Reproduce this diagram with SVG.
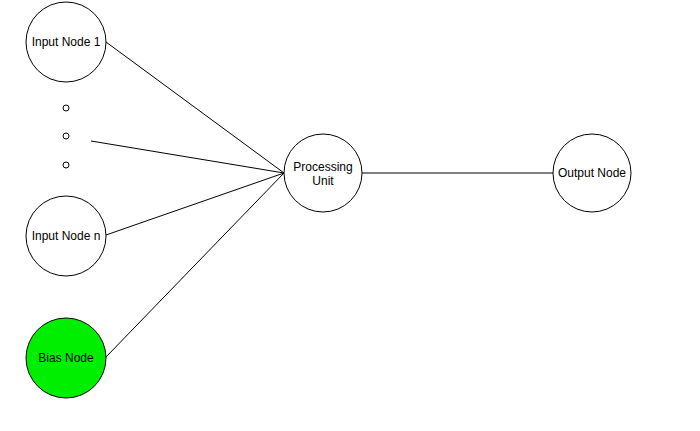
<svg xmlns="http://www.w3.org/2000/svg" width="700" height="431" viewBox="0 0 700 431">
<style>
.node{fill:#ffffff;stroke:#000000;stroke-width:1}
.bias{fill:#00ee00;stroke:#000000;stroke-width:1}
.dot{fill:#ffffff;stroke:#000000;stroke-width:1}
.edge{fill:none;stroke:#000000;stroke-width:1}
text{font-family:"Liberation Sans",Arial,sans-serif;font-size:12px;fill:#000000;text-anchor:middle}
</style>
<rect width="700" height="431" fill="#ffffff"/>
<g id="connectors">
<path class="edge" d="M106 42 L284 173"/>
<path class="edge" d="M91 141 L284 173"/>
<path class="edge" d="M106 235 L284 173"/>
<path class="edge" d="M106 357 L284 173"/>
<path class="edge" d="M362 173 L553 173"/>
</g>
<g id="input1">
<circle class="node" cx="66" cy="42" r="40"/>
<text x="66" y="46">Input Node 1</text>
</g>
<g id="dots">
<circle class="dot" cx="66" cy="108" r="3"/>
<circle class="dot" cx="66" cy="136" r="3"/>
<circle class="dot" cx="66" cy="165" r="3"/>
</g>
<g id="inputn">
<circle class="node" cx="66" cy="236" r="40"/>
<text x="66" y="240">Input Node n</text>
</g>
<g id="bias">
<circle class="bias" cx="66" cy="358" r="40"/>
<text x="66" y="362">Bias Node</text>
</g>
<g id="processing">
<circle class="node" cx="323" cy="173" r="39"/>
<text x="323" y="171">Processing</text>
<text x="323" y="185">Unit</text>
</g>
<g id="output">
<circle class="node" cx="592" cy="173" r="39"/>
<text x="592" y="177">Output Node</text>
</g>
</svg>
